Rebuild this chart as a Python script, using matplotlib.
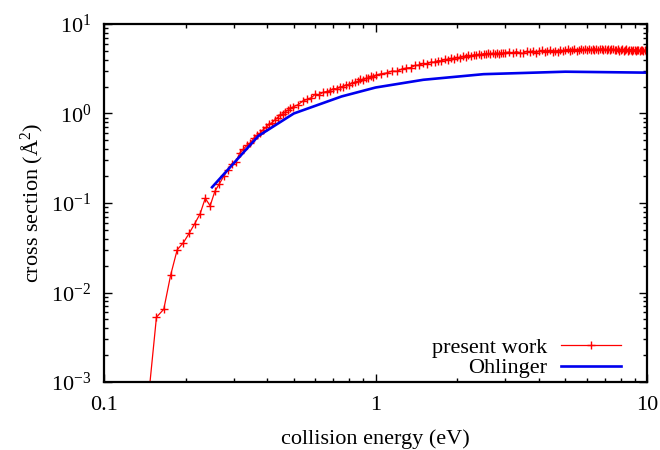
import numpy as np
import matplotlib
matplotlib.use("Agg")
import matplotlib.pyplot as plt
from matplotlib.ticker import LogLocator, LogFormatterMathtext, NullFormatter

plt.rcParams['font.family'] = ['Liberation Serif', 'DejaVu Serif']
plt.rcParams['mathtext.fontset'] = 'custom'
plt.rcParams['mathtext.rm'] = 'Liberation Serif'
plt.rcParams['mathtext.it'] = 'Liberation Serif:italic'
plt.rcParams['font.size'] = 16

# present work (energy in eV, cross section in A^2)
e_low = [0.146, 0.156, 0.166, 0.176, 0.186, 0.196, 0.206, 0.216, 0.226, 0.236,
         0.246, 0.256, 0.266, 0.276, 0.286, 0.296, 0.306, 0.316, 0.326, 0.336,
         0.346, 0.356, 0.366, 0.376, 0.386, 0.396, 0.406, 0.416, 0.426, 0.436,
         0.446, 0.456, 0.466, 0.476, 0.486, 0.496]
s_low = [0.0007, 0.0053, 0.0065, 0.0157, 0.030, 0.036, 0.046, 0.059, 0.076, 0.113,
         0.093, 0.135, 0.164, 0.199, 0.235, 0.275, 0.29, 0.36, 0.40, 0.44,
         0.47, 0.53, 0.57, 0.60, 0.66, 0.70, 0.76, 0.79, 0.85, 0.90,
         0.97, 0.99, 1.05, 1.09, 1.15, 1.18]

e_mid = [0.52, 0.54, 0.56, 0.58, 0.60, 0.62, 0.64, 0.66, 0.68, 0.70,
         0.72, 0.74, 0.76, 0.78, 0.80, 0.82, 0.84, 0.86, 0.88, 0.90,
         0.92, 0.94, 0.96, 0.98, 1.00]
s_mid = [1.26, 1.38, 1.44, 1.50, 1.64, 1.62, 1.72, 1.76, 1.80, 1.90,
         1.88, 1.98, 2.00, 2.10, 2.09, 2.20, 2.22, 2.28, 2.40, 2.38,
         2.46, 2.50, 2.60, 2.56, 2.68]

e_hi = [1.05, 1.10, 1.15, 1.20, 1.25, 1.30, 1.35, 1.40, 1.45, 1.50,
        1.55, 1.60, 1.65, 1.70, 1.75, 1.80, 1.85, 1.90, 1.95, 2.00,
        2.05, 2.10, 2.15, 2.20, 2.25, 2.30, 2.35, 2.40, 2.45, 2.50,
        2.55, 2.60, 2.65, 2.70, 2.75, 2.80, 2.85, 2.90, 2.95, 3.00]
s_hi = [2.78, 2.84, 2.98, 2.96, 3.14, 3.22, 3.26, 3.44, 3.48, 3.62,
        3.58, 3.76, 3.74, 3.90, 3.86, 4.02, 4.00, 4.14, 4.10, 4.24,
        4.20, 4.34, 4.30, 4.46, 4.38, 4.52, 4.50, 4.60, 4.52, 4.66,
        4.58, 4.70, 4.62, 4.72, 4.64, 4.76, 4.66, 4.78, 4.68, 4.80]

e_top = [3.1, 3.2, 3.3, 3.4, 3.5, 3.6, 3.7, 3.8, 3.9, 4.0,
         4.1, 4.2, 4.3, 4.4, 4.5, 4.6, 4.7, 4.8, 4.9, 5.0,
         5.1, 5.2, 5.3, 5.4, 5.5, 5.6, 5.7, 5.8, 5.9, 6.0,
         6.1, 6.2, 6.3, 6.4, 6.5, 6.6, 6.7, 6.8, 6.9, 7.0,
         7.1, 7.2, 7.3, 7.4, 7.5, 7.6, 7.7, 7.8, 7.9, 8.0,
         8.1, 8.2, 8.3, 8.4, 8.5, 8.6, 8.7, 8.8, 8.9, 9.0,
         9.1, 9.2, 9.3, 9.4, 9.5, 9.6, 9.7, 9.8, 9.9, 10.0]
s_top = [4.86, 4.70, 4.92, 4.78, 4.68, 4.96, 4.82, 5.02, 4.76, 4.94,
         5.06, 4.84, 4.98, 5.10, 4.88, 5.04, 4.92, 5.16, 4.96, 5.08,
         5.20, 4.98, 5.12, 5.26, 5.04, 5.18, 5.30, 5.06, 5.22, 5.14,
         5.32, 5.08, 5.24, 5.16, 5.30, 5.06, 5.22, 5.28, 5.10, 5.24,
         5.14, 5.30, 5.08, 5.20, 5.26, 5.06, 5.18, 5.24, 5.04, 5.16,
         5.22, 5.02, 5.14, 5.20, 5.00, 5.12, 5.18, 4.98, 5.10, 5.16,
         5.00, 5.08, 5.14, 4.96, 5.06, 5.12, 4.98, 5.10, 5.04, 5.08]

# Ohlinger
e_ohl = [0.25, 0.37, 0.5, 0.75, 1.0, 1.5, 2.5, 5.0, 10.0]
s_ohl = [0.15, 0.56, 1.0, 1.55, 1.95, 2.38, 2.75, 2.93, 2.86]

energy = np.array(e_low + e_mid + e_hi + e_top)
sigma = np.array(s_low + s_mid + s_hi + s_top)

fig = plt.figure(figsize=(6.6, 4.5), dpi=100)
ax = fig.add_axes([0.1576, 0.1511, 0.8227, 0.7956])

ax.plot(energy, sigma, color='red', lw=0.9, marker='+', ms=6, mew=1.0,
        label='present work')
ax.plot(e_ohl, s_ohl, color='#0000ee', lw=1.9, label='Ohlinger')

ax.set_xscale('log')
ax.set_yscale('log')
ax.set_xlim(0.1, 10)
ax.set_ylim(1e-3, 10)

ax.set_xticks([0.1, 1, 10])
ax.set_xticklabels(['0.1', '1', '10'])
ax.xaxis.set_minor_locator(LogLocator(base=10, subs=np.arange(2, 10)))
ax.xaxis.set_minor_formatter(NullFormatter())
ax.yaxis.set_major_locator(LogLocator(base=10))
ax.yaxis.set_major_formatter(LogFormatterMathtext())
ax.yaxis.set_minor_locator(LogLocator(base=10, subs=np.arange(2, 10)))
ax.yaxis.set_minor_formatter(NullFormatter())

ax.tick_params(which='both', direction='in', top=True, right=True, width=1.0)
ax.tick_params(which='major', length=6, labelsize=16)
ax.tick_params(axis='x', which='major', pad=10)
ax.tick_params(axis='y', which='major', pad=9)
ax.tick_params(which='minor', length=3)
for sp in ax.spines.values():
    sp.set_linewidth(1.6)

ax.set_xlabel('collision energy (eV)', fontsize=16, labelpad=10)
ax.set_ylabel('cross section (Å$^2$)', fontsize=16, labelpad=4)

ax.legend(loc='lower right', bbox_to_anchor=(0.952, 0.01), frameon=False,
          markerfirst=False, numpoints=1, handlelength=2.7, fontsize=16,
          borderaxespad=0, labelspacing=0.0, handletextpad=0.6, borderpad=0)

fig.savefig('out.png', dpi=100)
